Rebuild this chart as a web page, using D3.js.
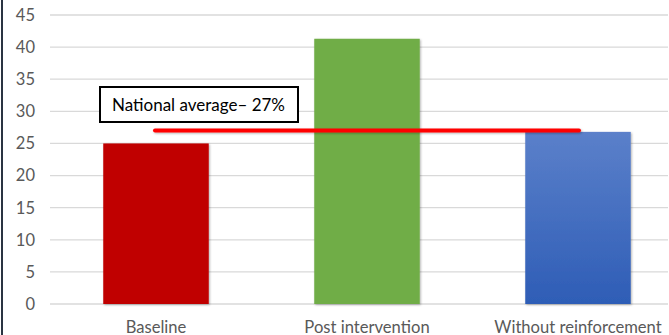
<!DOCTYPE html>
<html lang="en">
<head>
<meta charset="utf-8">
<title>National average chart</title>
<script src="https://d3js.org/d3.v7.min.js"></script>
<style>
  body { margin: 0; background: #fff; }
  svg { display: block; font-family: Lato, "Open Sans", sans-serif; }
</style>
</head>
<body>
<div id="chart"></div>
<script>
// chart data
const categories = ["Baseline", "Post intervention", "Without reinforcement"];
const values = [25, 41.3, 26.8];
const barColors = ["#c00000", "#70ad47", "url(#blueGrad)"];
const yTicks = [0, 5, 10, 15, 20, 25, 30, 35, 40, 45];
const nationalAvg = 27;
const avgLabel = "National average\u2013 27%";

const width = 669, height = 335;

const svg = d3.select("#chart").append("svg")
    .attr("width", width)
    .attr("height", height);

const defs = svg.append("defs");
const grad = defs.append("linearGradient")
    .attr("id", "blueGrad")
    .attr("x1", 0).attr("y1", 0).attr("x2", 0).attr("y2", 1);
grad.append("stop").attr("offset", "0%").attr("stop-color", "#5b80ca");
grad.append("stop").attr("offset", "100%").attr("stop-color", "#2e5db6");

// userSpaceOnUse so it also works on the flat average line
const shadow = defs.append("filter").attr("id", "shadow")
    .attr("filterUnits", "userSpaceOnUse")
    .attr("x", 0).attr("y", 0).attr("width", width).attr("height", height);
shadow.append("feDropShadow")
    .attr("dx", 1).attr("dy", 1).attr("stdDeviation", 1.2)
    .attr("flood-color", "#000").attr("flood-opacity", 0.3);

// scales - plot runs past the right edge (cropped screenshot)
const x = d3.scaleBand()
    .domain(categories)
    .range([50.5, 683.5])
    .paddingInner(0.5)
    .paddingOuter(0.25);

const y = d3.scaleLinear()
    .domain([0, 45])
    .range([304, 15]);

// left border of the picture
svg.append("line")
    .attr("x1", 2).attr("x2", 2)
    .attr("y1", 0).attr("y2", height)
    .attr("stroke", "#2a3442")
    .attr("stroke-width", 2);

// gridlines
svg.append("g")
    .selectAll("line")
    .data(yTicks)
    .join("line")
    .attr("x1", 50).attr("x2", 668)
    .attr("y1", d => y(d)).attr("y2", d => y(d))
    .attr("stroke", "#d9d9d9")
    .attr("stroke-width", 1.3);

// y tick labels
svg.append("g")
    .selectAll("text")
    .data(yTicks)
    .join("text")
    .attr("x", 35)
    .attr("y", d => y(d))
    .attr("dy", "0.36em")
    .attr("text-anchor", "end")
    .attr("font-size", 16.5)
    .attr("fill", "#595959")
    .text(d => d);

// bars
svg.append("g")
    .selectAll("rect")
    .data(values)
    .join("rect")
    .attr("x", (d, i) => x(categories[i]))
    .attr("width", x.bandwidth())
    .attr("y", d => y(d))
    .attr("height", d => y(0) - y(d))
    .attr("fill", (d, i) => barColors[i])
    .attr("filter", "url(#shadow)");

// category labels
svg.append("g")
    .selectAll("text")
    .data(categories)
    .join("text")
    .attr("x", d => x(d) + x.bandwidth() / 2)
    .attr("y", 333)
    .attr("text-anchor", "middle")
    .attr("font-size", 16.6)
    .attr("fill", "#595959")
    .text(d => d);

// national average line
svg.append("line")
    .attr("x1", x(categories[0]) + x.bandwidth() / 2 - 1)
    .attr("x2", x(categories[2]) + x.bandwidth() / 2 + 1)
    .attr("y1", y(nationalAvg))
    .attr("y2", y(nationalAvg))
    .attr("stroke", "#ff0000")
    .attr("stroke-width", 4)
    .attr("stroke-linecap", "round")
    .attr("filter", "url(#shadow)");

// label box
const box = svg.append("g").attr("transform", "translate(100,87)");
box.append("rect")
    .attr("width", 198)
    .attr("height", 35)
    .attr("fill", "#fff")
    .attr("stroke", "#000")
    .attr("stroke-width", 2);
box.append("text")
    .attr("x", 12)
    .attr("y", 24)
    .attr("font-size", 17)
    .attr("fill", "#000")
    .text(avgLabel);
</script>
</body>
</html>
